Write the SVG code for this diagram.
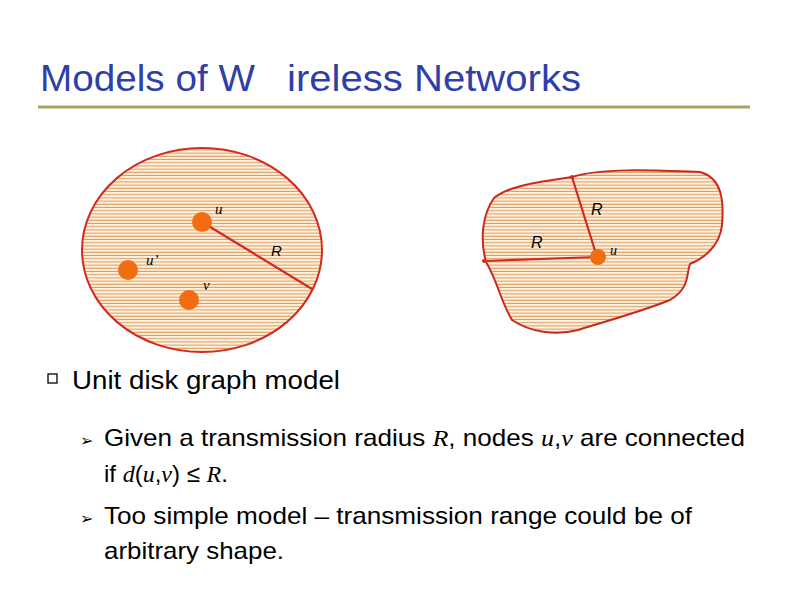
<svg xmlns="http://www.w3.org/2000/svg" width="794" height="595" viewBox="0 0 794 595">
<defs>
<pattern id="h" width="4" height="3.2" patternUnits="userSpaceOnUse"><rect width="4" height="3.2" fill="#fdf0dc"/><rect y="2.2" width="4" height="1" fill="#d99a60"/></pattern>
</defs>
<style>
.t{font-family:"Liberation Sans",Arial,sans-serif;fill:#000}
.m{font-family:"Liberation Serif","Times New Roman",serif;font-style:italic}
.edge{stroke:#d42a20;stroke-width:2.2;fill:none}
.n{fill:#f26c10}
.ti{font-family:"Liberation Sans",Arial,sans-serif;font-size:36px;fill:#2f3fa8}
</style>
<rect width="794" height="595" fill="#fff"/>
<text class="ti" x="40" y="91" textLength="215" lengthAdjust="spacingAndGlyphs">Models of W</text>
<text class="ti" x="287" y="91" textLength="294" lengthAdjust="spacingAndGlyphs">ireless Networks</text>
<line x1="38" y1="107" x2="750" y2="107" stroke="#a6a45e" stroke-width="3"/>
<g id="disk">
<ellipse cx="202" cy="250" rx="120" ry="102" fill="url(#h)" stroke="#d42a20" stroke-width="2"/>
</g>
<g id="blob">
<path d="M572,177 C600,168 650,170 700,172 C722,178 724,200 722,225 C720,245 705,258 690,264 C686,275 690,288 670,300 C640,312 610,320 578,330 C555,336 530,332 512,320 C500,300 498,282 486,262 C480,240 482,215 494,198 C510,185 540,182 572,177 Z" fill="url(#h)" stroke="#c82a20" stroke-width="2"/>
</g>
<g id="connectors">
<line class="edge" x1="202" y1="222" x2="312" y2="289"/>
<line class="edge" x1="597" y1="257" x2="572" y2="177"/>
<line class="edge" x1="597" y1="257" x2="484" y2="261"/>
<circle cx="572" cy="177" r="2" fill="#d42a20"/>
<circle cx="484" cy="261" r="2" fill="#d42a20"/>
</g>
<g id="node-u"><circle class="n" cx="202" cy="222" r="10"/><text class="m" x="215" y="214" font-size="15">u</text></g>
<g id="node-u2"><circle class="n" cx="128" cy="270" r="10"/><text class="m" x="146" y="265" font-size="15">u’</text></g>
<g id="node-v"><circle class="n" cx="189" cy="300" r="10"/><text class="m" x="203" y="290" font-size="15">v</text></g>
<text class="t" x="271" y="256" font-size="15" font-style="italic">R</text>
<g id="node-u3"><circle class="n" cx="598" cy="257" r="8"/><text class="m" x="610" y="255" font-size="14">u</text></g>
<text class="t" x="591" y="215" font-size="16" font-style="italic">R</text>
<text class="t" x="531" y="248" font-size="16" font-style="italic">R</text>
<rect x="48" y="374" width="9" height="9" fill="none" stroke="#000" stroke-width="1.3"/>
<text class="t" x="72" y="389" font-size="26" textLength="268" lengthAdjust="spacingAndGlyphs">Unit disk graph model</text>
<text class="t" x="80" y="446" font-size="16">➢</text>
<text class="t" x="104" y="446" font-size="24" textLength="641" lengthAdjust="spacingAndGlyphs">Given a transmission radius <tspan class="m">R</tspan>, nodes <tspan class="m">u</tspan>,<tspan class="m">v</tspan> are connected</text>
<text class="t" x="104" y="482" font-size="24">if <tspan class="m">d</tspan>(<tspan class="m">u</tspan>,<tspan class="m">v</tspan>) ≤ <tspan class="m">R</tspan>.</text>
<text class="t" x="80" y="524" font-size="16">➢</text>
<text class="t" x="104" y="524" font-size="24" textLength="588" lengthAdjust="spacingAndGlyphs">Too simple model – transmission range could be of</text>
<text class="t" x="104" y="559" font-size="24" textLength="180" lengthAdjust="spacingAndGlyphs">arbitrary shape.</text>
</svg>
